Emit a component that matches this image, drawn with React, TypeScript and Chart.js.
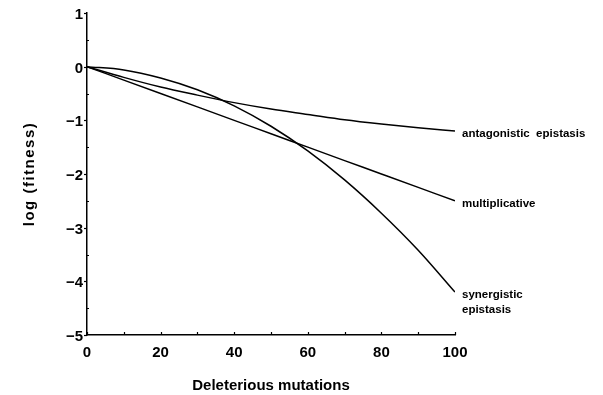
import React, { useEffect, useRef } from 'react';
import { Chart, registerables } from 'chart.js';

Chart.register(...registerables);

// Data
const mutations = [0, 10, 20, 30, 40, 50, 60, 70, 80, 90, 100];
const multiplicative = [0, -0.25, -0.5, -0.75, -1.0, -1.25, -1.5, -1.75, -2.0, -2.25, -2.5];
const antagonistic = [0, -0.2, -0.38, -0.53, -0.67, -0.79, -0.89, -0.99, -1.07, -1.14, -1.2];
const synergistic = [0, -0.06, -0.21, -0.43, -0.73, -1.11, -1.57, -2.11, -2.73, -3.42, -4.2];
const curveLabels = [['antagonistic  epistasis'], ['multiplicative'], ['synergistic', 'epistasis']];
const xTitle = 'Deleterious mutations';
const yTitle = 'log (fitness)';
const xMinorTicks = [0, 10, 20, 30, 40, 50, 60, 70, 80, 90, 100];
const yMajorTicks = [1, 0, -1, -2, -3, -4, -5];
const yMinorTicks = [0.5, -0.5, -1.5, -2.5, -3.5, -4.5];

const FONT = '"Liberation Sans", Arial, sans-serif';

const decorPlugin = {
  id: 'decor',
  afterDraw(chart: any) {
    const { ctx, chartArea } = chart;
    const xs = chart.scales.x;
    const ys = chart.scales.y;
    ctx.save();
    ctx.strokeStyle = '#000';
    ctx.lineWidth = 1.2;
    // x ticks pointing up
    xMinorTicks.forEach((v) => {
      const px = Math.round(xs.getPixelForValue(v)) + 0.5;
      ctx.beginPath();
      ctx.moveTo(px, chartArea.bottom);
      ctx.lineTo(px, chartArea.bottom - 3);
      ctx.stroke();
    });
    // y major ticks pointing left
    yMajorTicks.forEach((v) => {
      const py = Math.round(ys.getPixelForValue(v)) + 0.5;
      ctx.beginPath();
      ctx.moveTo(chartArea.left, py);
      ctx.lineTo(chartArea.left - 3, py);
      ctx.stroke();
    });
    yMinorTicks.forEach((v) => {
      const py = Math.round(ys.getPixelForValue(v)) + 0.5;
      ctx.beginPath();
      ctx.moveTo(chartArea.left, py);
      ctx.lineTo(chartArea.left + 2, py);
      ctx.stroke();
    });
    // curve labels
    ctx.fillStyle = '#000';
    ctx.font = `bold 11.5px ${FONT}`;
    ctx.textAlign = 'left';
    ctx.textBaseline = 'middle';
    const series = [antagonistic, multiplicative, synergistic];
    series.forEach((s, i) => {
      const lx = xs.getPixelForValue(mutations[mutations.length - 1]) + 7;
      const ly = ys.getPixelForValue(s[s.length - 1]) + 3;
      curveLabels[i].forEach((t, j) => ctx.fillText(t, lx, ly + j * 15));
    });
    // y title
    ctx.translate(30, (chartArea.top + chartArea.bottom) / 2);
    ctx.rotate(-Math.PI / 2);
    ctx.font = `bold 15px ${FONT}`;
    try { (ctx as any).letterSpacing = '1.5px'; } catch (e) {}
    ctx.textAlign = 'center';
    ctx.fillText(yTitle, 0, 0);
    ctx.restore();
  },
};

export default function App() {
  const ref = useRef<HTMLCanvasElement | null>(null);
  useEffect(() => {
    if (!ref.current) return;
    const mk = (arr: number[]) => mutations.map((x, i) => ({ x, y: arr[i] }));
    const ds = (arr: number[]) => ({
      data: mk(arr),
      borderColor: '#000',
      borderWidth: 1.5,
      pointRadius: 0,
      fill: false,
      cubicInterpolationMode: 'monotone' as const,
    });
    const chart = new Chart(ref.current, {
      type: 'line',
      data: { datasets: [ds(antagonistic), ds(multiplicative), ds(synergistic)] },
      options: {
        animation: false,
        responsive: false,
        devicePixelRatio: 1,
        layout: { padding: { left: 0, top: 13, right: 148, bottom: 0 } },
        plugins: { legend: { display: false }, tooltip: { enabled: false } },
        scales: {
          x: {
            type: 'linear',
            min: 0,
            max: 100,
            grid: { display: false, drawTicks: false },
            border: { display: true, color: '#000', width: 1.5 },
            ticks: { stepSize: 20, padding: 9, color: '#000', font: { family: FONT, weight: 'bold', size: 15 } },
            title: { display: true, text: xTitle, color: '#000', padding: 0, font: { family: FONT, weight: 'bold', size: 15 } },
            afterFit: (s: any) => { s.height = 60; },
          },
          y: {
            type: 'linear',
            min: -5,
            max: 1,
            grid: { display: false, drawTicks: false },
            border: { display: true, color: '#000', width: 1.5 },
            ticks: {
              stepSize: 1,
              padding: 4,
              labelOffset: 2,
              color: '#000',
              font: { family: FONT, weight: 'bold', size: 15 },
              callback: (v: any) => (Number(v) < 0 ? '\u2212' + Math.abs(Number(v)) : String(v)),
            },
            afterFit: (s: any) => { s.width = 87; },
          },
        },
      },
      plugins: [decorPlugin],
    });
    return () => chart.destroy();
  }, []);
  return (
    <canvas
      ref={ref}
      width={603}
      height={395}
      style={{ position: 'absolute', left: 0, top: 0, width: 603, height: 395 }}
    />
  );
}
